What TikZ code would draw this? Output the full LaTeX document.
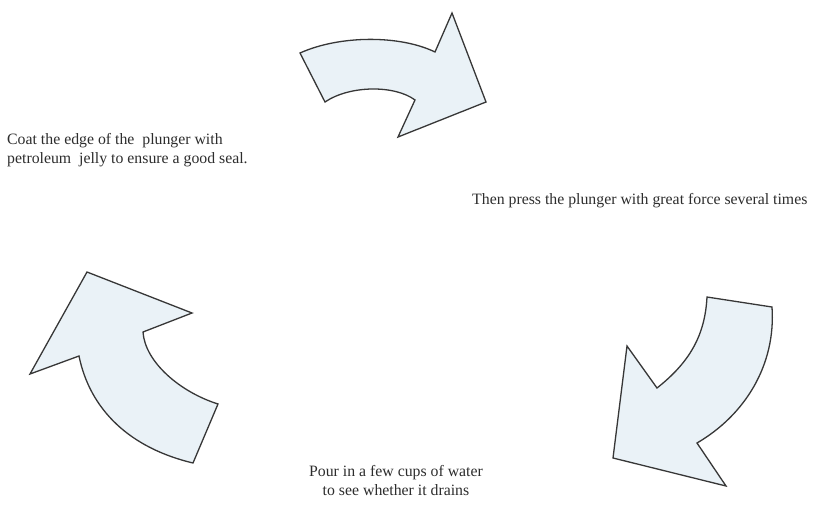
\documentclass[tikz,border=0pt]{standalone}
\usepackage{fontspec}
\setmainfont{Liberation Serif}
\begin{document}
\begin{tikzpicture}[x=1pt,y=-1pt,
  bentarrow/.style={draw={rgb,255:red,55;green,55;blue,55},fill={rgb,255:red,234;green,242;blue,247},line width=1.3pt,line join=miter},
  steptext/.style={inner sep=0pt,font=\fontsize{15.8}{19}\selectfont,text={rgb,255:red,45;green,45;blue,45}}]
\useasboundingbox[fill=white] (0,0) rectangle (814,517);
% top arrow
\draw[bentarrow] (300,53) .. controls (340,35) and (400,35) .. (435,52) -- (452,13) -- (486,102) -- (398,137) -- (415,100) .. controls (395,85) and (350,85) .. (325,102) -- cycle;
% right arrow
\draw[bentarrow] (707,297) -- (772,307) .. controls (776,365) and (745,415) .. (697,443) -- (726,486) -- (613,458) -- (627,346) -- (657,388) .. controls (690,362) and (705,335) .. (707,297) -- cycle;
% left arrow
\draw[bentarrow] (193,463) -- (218,404) .. controls (180,392) and (145,362) .. (143,332) -- (192,313) -- (87,272) -- (30,374) -- (79,356) .. controls (90,410) and (130,448) .. (193,463) -- cycle;
% texts
\node[steptext,anchor=base west,align=left] (coat) at (7,163) {Coat the edge of the\ \ plunger with\\petroleum\ \ jelly to ensure a good seal.};
\node[steptext,anchor=base west] (press) at (472,204) {Then press the plunger with great force several times};
\node[steptext,anchor=base,align=center] (pour) at (396,495) {Pour in a few cups of water\\to see whether it drains};
\end{tikzpicture}
\end{document}
